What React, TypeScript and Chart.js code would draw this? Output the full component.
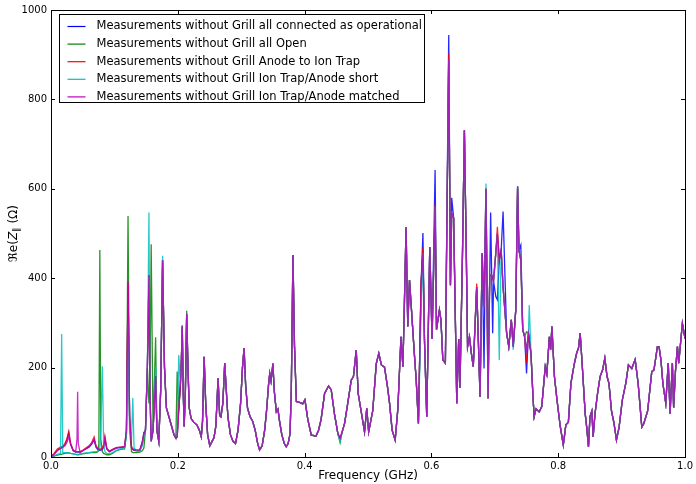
import React, { useEffect, useRef } from "react";
import { Chart, registerables } from "chart.js";

Chart.register(...registerables);

const seriesLabels = [
  "Measurements without Grill all connected as operational",
  "Measurements without Grill all Open",
  "Measurements without Grill Anode to Ion Trap",
  "Measurements without Grill Ion Trap/Anode short",
  "Measurements without Grill Ion Trap/Anode matched",
];
const seriesColors = [
  "rgba(0,0,255,0.85)",
  "rgba(0,128,0,0.85)",
  "rgba(255,0,0,0.85)",
  "rgba(0,191,191,0.85)",
  "rgba(191,0,191,0.82)",
];
const legendColors = ["#0000ff", "#008000", "#ff0000", "#00bfbf", "#bf00bf"];

const xTicks = [0, 0.2, 0.4, 0.6, 0.8, 1.0];
const yTicks = [0, 200, 400, 600, 800, 1000];

// Low-frequency part (0 - 0.1465 GHz), one value per series at each frequency
const lowFreq = [
  0, 0.005, 0.01, 0.015, 0.0168, 0.0185, 0.022, 0.025, 0.028, 0.031,
  0.035, 0.039, 0.041, 0.042, 0.043, 0.046, 0.05, 0.055, 0.06, 0.064,
  0.068, 0.071, 0.074, 0.0755, 0.077, 0.0785, 0.081, 0.083, 0.085, 0.088,
  0.092, 0.097, 0.103, 0.11, 0.116, 0.119, 0.1215, 0.124, 0.127, 0.129,
  0.131, 0.135, 0.14, 0.144, 0.1465,
];
const lowBlue = [
  0, 7, 15, 20, 21, 22, 28, 38, 55, 28,
  14, 11, 11, 11, 11, 11, 14, 18, 22, 28,
  38, 22, 16, 15, 15, 16, 18, 24, 40, 18,
  12, 16, 20, 21, 22, 55, 380, 85, 20, 17,
  15, 14, 14, 35, 55,
];
const lowGreen = [
  0, 2, 4, 6, 6, 7, 8, 9, 9, 8,
  7, 6, 5, 5, 5, 6, 7, 8, 9, 10,
  10, 10, 12, 30, 463, 40, 12, 8, 7, 5,
  5, 8, 14, 17, 18, 50, 539, 60, 12, 10,
  10, 10, 11, 14, 20,
];
const lowRed = [
  0, 8, 18, 22, 23, 24, 30, 40, 57, 30,
  15, 12, 12, 12, 12, 12, 15, 20, 25, 32,
  45, 25, 18, 17, 17, 18, 20, 28, 47, 20,
  13, 17, 21, 22, 23, 60, 390, 90, 22, 18,
  16, 15, 15, 32, 52,
];
const lowCyan = [
  0, 3, 6, 8, 275, 10, 10, 10, 9, 8,
  7, 6, 6, 6, 6, 7, 8, 9, 10, 11,
  12, 12, 12, 15, 20, 60, 203, 30, 12, 8,
  7, 10, 15, 18, 20, 50, 300, 60, 40, 132,
  20, 14, 12, 25, 45,
];
const lowMatched = [
  0, 6, 14, 19, 20, 22, 25, 32, 45, 28,
  15, 12, 40, 146, 30, 10, 14, 19, 24, 30,
  40, 24, 18, 17, 17, 16, 16, 22, 42, 18,
  12, 16, 21, 22, 23, 60, 394, 90, 22, 18,
  17, 16, 16, 30, 50,
];

// Main part (0.149 - 1.0 GHz), the "matched" trace that the others follow
const mainFreq = [
  0.149, 0.152, 0.1545, 0.156, 0.158, 0.161, 0.165, 0.167, 0.17, 0.173,
  0.176, 0.179, 0.182, 0.186, 0.19, 0.194, 0.197, 0.199, 0.2015, 0.204,
  0.2055, 0.207, 0.2085, 0.21, 0.212, 0.214, 0.216, 0.218, 0.221, 0.225,
  0.23, 0.234, 0.237, 0.239, 0.2415, 0.244, 0.247, 0.2505, 0.254, 0.257,
  0.26, 0.2635, 0.266, 0.268, 0.271, 0.274, 0.276, 0.279, 0.283, 0.287,
  0.291, 0.295, 0.299, 0.302, 0.3045, 0.307, 0.31, 0.314, 0.318, 0.322,
  0.326, 0.329, 0.333, 0.337, 0.34, 0.343, 0.345, 0.347, 0.35, 0.352,
  0.3554, 0.358, 0.36, 0.364, 0.368, 0.371, 0.374, 0.377, 0.379, 0.3816,
  0.384, 0.387, 0.392, 0.397, 0.4005, 0.405, 0.4105, 0.418, 0.422, 0.426,
  0.4315, 0.4378, 0.442, 0.447, 0.4525, 0.456, 0.459, 0.463, 0.468, 0.4735,
  0.477, 0.4814, 0.4845, 0.488, 0.4945, 0.498, 0.501, 0.5075, 0.513, 0.517,
  0.521, 0.526, 0.531, 0.534, 0.538, 0.5428, 0.547, 0.552, 0.555, 0.5575,
  0.56, 0.5627, 0.5654, 0.569, 0.573, 0.576, 0.5795, 0.5837, 0.5866, 0.589,
  0.5926, 0.5974, 0.601, 0.6058, 0.608, 0.6126, 0.615, 0.618, 0.622, 0.6273,
  0.63, 0.632, 0.635, 0.637, 0.64, 0.643, 0.645, 0.649, 0.652, 0.655,
  0.657, 0.66, 0.663, 0.666, 0.6714, 0.6767, 0.68, 0.683, 0.686, 0.6893,
  0.692, 0.695, 0.698, 0.7015, 0.704, 0.707, 0.71, 0.713, 0.7186, 0.722,
  0.726, 0.729, 0.733, 0.7359, 0.738, 0.741, 0.744, 0.747, 0.75, 0.753,
  0.757, 0.76, 0.762, 0.765, 0.77, 0.774, 0.7795, 0.782, 0.786, 0.788,
  0.79, 0.794, 0.798, 0.803, 0.808, 0.812, 0.816, 0.82, 0.825, 0.829,
  0.832, 0.8346, 0.838, 0.8425, 0.845, 0.8477, 0.85, 0.853, 0.855, 0.858,
  0.862, 0.866, 0.87, 0.8735, 0.877, 0.88, 0.884, 0.888, 0.8918, 0.896,
  0.901, 0.9066, 0.9107, 0.916, 0.9213, 0.926, 0.9318, 0.935, 0.941, 0.9475,
  0.951, 0.9564, 0.959, 0.962, 0.965, 0.9696, 0.9735, 0.9764, 0.98, 0.982,
  0.985, 0.988, 0.99, 0.9958, 1.0,
];
const mainMatched = [
  60, 200, 407, 150, 35, 60, 181, 60, 35, 150,
  440, 200, 110, 90, 70, 50, 42, 45, 107, 160,
  206, 292, 150, 68, 150, 320, 200, 110, 86, 78,
  72, 60, 45, 80, 224, 120, 50, 25, 35, 43,
  69, 176, 93, 90, 120, 210, 160, 90, 50, 35,
  30, 60, 120, 200, 244, 160, 109, 90, 80, 60,
  30, 16, 25, 60, 104, 160, 187, 170, 209, 150,
  101, 107, 84, 50, 30, 23, 30, 52, 150, 452,
  250, 124, 122, 119, 128, 84, 49, 47, 60, 84,
  142, 159, 150, 97, 52, 42, 55, 75, 120, 172,
  180, 239, 142, 112, 56, 109, 56, 104, 209, 232,
  206, 201, 154, 120, 60, 38, 107, 269, 202, 351,
  514, 292, 396, 319, 232, 172, 75, 388, 456, 264,
  90, 470, 264, 560, 285, 329, 307, 217, 210, 890,
  384, 545, 535, 370, 120, 264, 155, 456, 731, 456,
  247, 269, 232, 202, 380, 135, 456, 336, 600, 131,
  407, 407, 393, 456, 500, 440, 463, 380, 277, 247,
  307, 247, 329, 605, 463, 440, 285, 269, 240, 277,
  232, 140, 90, 108, 101, 113, 202, 186, 269, 240,
  292, 180, 128, 70, 27, 72, 78, 165, 206, 232,
  244, 277, 202, 97, 65, 23, 90, 103, 45, 97,
  142, 180, 195, 221, 180, 165, 103, 75, 38, 67,
  127, 165, 206, 198, 218, 165, 67, 75, 103, 191,
  195, 247, 247, 217, 165, 120, 210, 97, 210, 110,
  195, 247, 210, 299, 265,
];

// Where the other traces depart from the matched trace: [frequency, value]
const blueDiff: [number, number][] = [
  [0.2055, 212], [0.5866, 501], [0.6058, 642], [0.6273, 944], [0.632, 580],
  [0.6835, 198], [0.6934, 547], [0.6966, 277], [0.7008, 359], [0.703, 352],
  [0.7123, 549], [0.7412, 474], [0.75, 187], [0.6893, 200],
];
const greenDiff: [number, number][] = [
  [0.1545, 120], [0.1575, 476], [0.165, 268], [0.199, 191], [0.207, 295],
  [0.214, 327], [0.456, 32], [0.698, 400], [0.7505, 280], [0.831, 245],
];
const redDiff: [number, number][] = [
  [0.2055, 215], [0.5866, 470], [0.6058, 565], [0.6273, 903], [0.6714, 388],
  [0.704, 515], [0.7359, 600], [0.749, 210],
];
const cyanDiff: [number, number][] = [
  [0.1545, 547], [0.165, 203], [0.176, 450], [0.201, 228], [0.456, 35],
  [0.686, 612], [0.708, 217], [0.7293, 240], [0.7543, 340], [0.5837, 320],
];

function buildSeries(low: number[], diff: [number, number][]) {
  const pts = lowFreq.map((x, i) => ({ x, y: low[i] }));
  const main = mainFreq.map((x, i) => ({ x, y: mainMatched[i] }));
  diff.forEach(([dx, dy]) => {
    const hit = main.find((p) => Math.abs(p.x - dx) < 0.0012);
    if (hit) hit.y = dy;
    else main.push({ x: dx, y: dy });
  });
  main.sort((a, b) => a.x - b.x);
  return pts.concat(main);
}

const FONT = "'DejaVu Sans', 'Liberation Sans', sans-serif";

const framePlugin = {
  id: "frame",
  afterDatasetsDraw(chart: any) {
    const { ctx, chartArea: a, scales } = chart;
    ctx.save();
    ctx.strokeStyle = "#000";
    ctx.lineWidth = 1;
    ctx.beginPath();
    xTicks.forEach((v) => {
      const px = Math.round(scales.x.getPixelForValue(v)) + 0.5;
      ctx.moveTo(px, a.bottom);
      ctx.lineTo(px, a.bottom - 4);
      ctx.moveTo(px, a.top);
      ctx.lineTo(px, a.top + 4);
    });
    yTicks.forEach((v) => {
      const py = Math.round(scales.y.getPixelForValue(v)) + 0.5;
      ctx.moveTo(a.left, py);
      ctx.lineTo(a.left + 4, py);
      ctx.moveTo(a.right, py);
      ctx.lineTo(a.right - 4, py);
    });
    ctx.stroke();
    ctx.strokeRect(Math.round(a.left) + 0.5, Math.round(a.top) + 0.5, Math.round(a.right - a.left), Math.round(a.bottom - a.top));
    ctx.restore();
  },
  afterDraw(chart: any) {
    const { ctx, chartArea: a } = chart;
    ctx.save();
    // legend box
    const bx = a.left + 8.5, by = a.top + 4.5, bw = 365, bh = 88;
    ctx.fillStyle = "#fff";
    ctx.fillRect(bx, by, bw, bh);
    ctx.strokeStyle = "#000";
    ctx.lineWidth = 1;
    ctx.strokeRect(bx, by, bw, bh);
    ctx.font = `11.5px ${FONT}`;
    ctx.textBaseline = "middle";
    seriesLabels.forEach((lab, i) => {
      const y = by + 12 + i * 17.6;
      ctx.strokeStyle = legendColors[i];
      ctx.lineWidth = 1.2;
      ctx.beginPath();
      ctx.moveTo(bx + 8, y);
      ctx.lineTo(bx + 26, y);
      ctx.stroke();
      ctx.fillStyle = "#000";
      ctx.fillText(lab, bx + 37, y);
    });
    // y axis label with subscript
    const cx = 14, cy = (a.top + a.bottom) / 2;
    ctx.translate(cx, cy);
    ctx.rotate(-Math.PI / 2);
    const parts = [
      { t: "\u211Ce(", f: `12px ${FONT}`, dy: 0 },
      { t: "Z", f: `italic 12px ${FONT}`, dy: 0 },
      { t: "\u2225", f: `9px ${FONT}`, dy: 3 },
      { t: " (\u03A9)", f: `12px ${FONT}`, dy: 0 },
    ];
    let total = 0;
    parts.forEach((p) => { ctx.font = p.f; total += ctx.measureText(p.t).width; });
    let x = -total / 2;
    ctx.fillStyle = "#000";
    ctx.textBaseline = "middle";
    parts.forEach((p) => {
      ctx.font = p.f;
      ctx.fillText(p.t, x, p.dy);
      x += ctx.measureText(p.t).width;
    });
    ctx.restore();
  },
};

export default function App() {
  const ref = useRef<HTMLCanvasElement>(null);
  useEffect(() => {
    if (!ref.current) return;
    const lows = [lowBlue, lowGreen, lowRed, lowCyan, lowMatched];
    const diffs = [blueDiff, greenDiff, redDiff, cyanDiff, []];
    const datasets = seriesLabels.map((label, i) => ({
      label,
      data: buildSeries(lows[i], diffs[i] as [number, number][]),
      borderColor: seriesColors[i],
      backgroundColor: seriesColors[i],
      borderWidth: 1.3,
      pointRadius: 0,
      tension: 0,
      fill: false,
      order: 5 - i,
    }));
    const chart = new Chart(ref.current, {
      type: "line",
      data: { datasets },
      options: {
        animation: false,
        responsive: false,
        parsing: false,
        normalized: true,
        layout: { padding: { top: 10, right: 10, left: 0, bottom: 0 } },
        plugins: { legend: { display: false }, tooltip: { enabled: false } },
        scales: {
          x: {
            type: "linear",
            min: 0,
            max: 1,
            grid: { display: false, drawTicks: false },
            border: { display: false },
            afterBuildTicks: (s: any) => { s.ticks = xTicks.map((v) => ({ value: v })); },
            ticks: {
              callback: (v: any) => Number(v).toFixed(1),
              font: { family: FONT, size: 10 },
              color: "#000",
              padding: 3,
              maxRotation: 0,
            },
            title: {
              display: true,
              text: "Frequency (GHz)",
              font: { family: FONT, size: 12 },
              color: "#000",
              padding: { top: 0, bottom: 1 },
            },
            afterFit: (s: any) => { s.height = 27; },
          },
          y: {
            type: "linear",
            min: 0,
            max: 1000,
            grid: { display: false, drawTicks: false },
            border: { display: false },
            afterBuildTicks: (s: any) => { s.ticks = yTicks.map((v) => ({ value: v })); },
            ticks: {
              callback: (v: any) => String(Math.round(Number(v))),
              font: { family: FONT, size: 10 },
              color: "#000",
              padding: 4,
            },
            afterFit: (s: any) => { s.width = 51; },
          },
        },
      },
      plugins: [framePlugin],
    } as any);
    return () => chart.destroy();
  }, []);
  return (
    <div style={{ position: "fixed", left: 0, top: 0, width: 696, height: 484, background: "#fff" }}>
      <canvas ref={ref} width={696} height={484} style={{ display: "block" }} />
    </div>
  );
}
